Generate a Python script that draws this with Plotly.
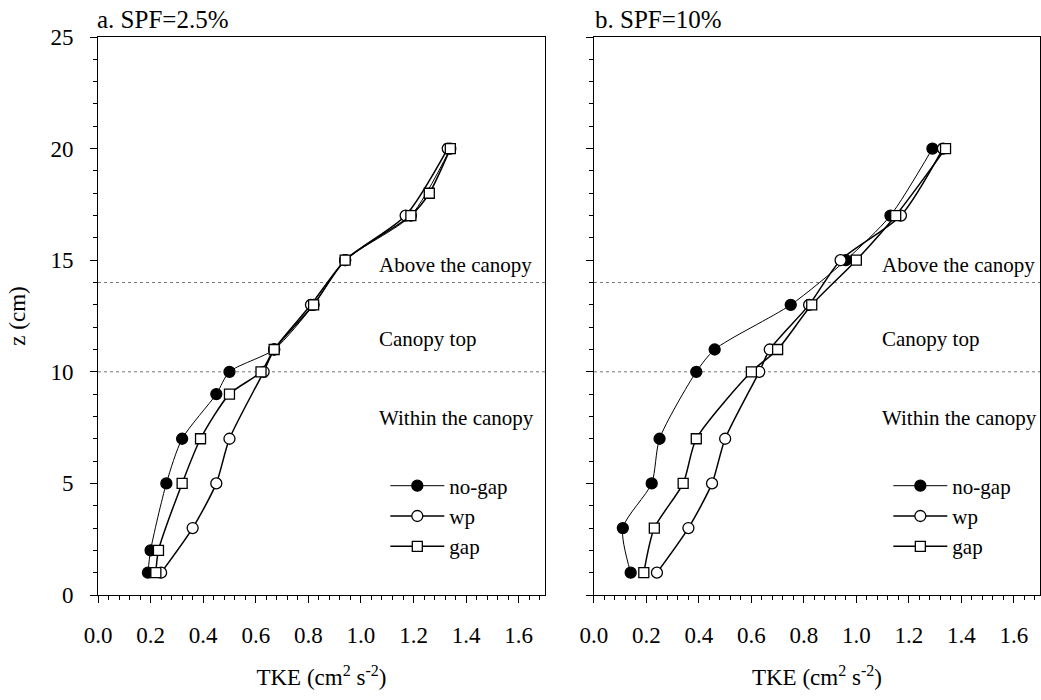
import plotly.graph_objects as go

# ---- data ----
series_names = ["no-gap", "wp", "gap"]

a_nogap_z = [1, 2, 5, 7, 9, 10, 11, 13, 15, 17, 20]
a_nogap_x = [0.19, 0.20, 0.26, 0.32, 0.45, 0.50, 0.67, 0.82, 0.94, 1.19, 1.34]
a_wp_z = [1, 3, 5, 7, 10, 11, 13, 15, 17, 20]
a_wp_x = [0.24, 0.36, 0.45, 0.50, 0.63, 0.67, 0.81, 0.94, 1.17, 1.33]
a_gap_z = [1, 2, 5, 7, 9, 10, 11, 13, 15, 17, 18, 20]
a_gap_x = [0.22, 0.23, 0.32, 0.39, 0.50, 0.62, 0.67, 0.82, 0.94, 1.19, 1.26, 1.34]

b_nogap_z = [1, 3, 5, 7, 10, 11, 13, 15, 17, 20]
b_nogap_x = [0.14, 0.11, 0.22, 0.25, 0.39, 0.46, 0.75, 0.96, 1.13, 1.29]
b_wp_z = [1, 3, 5, 7, 10, 11, 13, 15, 17, 20]
b_wp_x = [0.24, 0.36, 0.45, 0.50, 0.63, 0.67, 0.82, 0.94, 1.17, 1.33]
b_gap_z = [1, 3, 5, 7, 10, 11, 13, 15, 17, 20]
b_gap_x = [0.19, 0.23, 0.34, 0.39, 0.60, 0.70, 0.83, 1.00, 1.15, 1.34]

boundary_z = [10, 14]
zone_labels = ["Above the canopy", "Canopy top", "Within the canopy"]
zone_label_z = [14.8, 11.45, 7.95]
panel_titles = ["a. SPF=2.5%", "b. SPF=10%"]
x_tickvals = [0.0, 0.2, 0.4, 0.6, 0.8, 1.0, 1.2, 1.4, 1.6]
y_tickvals = [0, 5, 10, 15, 20, 25]

FONT = "Liberation Serif"

styles = {
    "no-gap": dict(symbol="circle", fill="black", size=11, lw=1.0),
    "wp": dict(symbol="circle", fill="white", size=11, lw=1.5),
    "gap": dict(symbol="square", fill="white", size=10, lw=1.5),
}

fig = go.Figure()

panels = [
    ("x", "y", "legend", [(a_nogap_x, a_nogap_z), (a_wp_x, a_wp_z), (a_gap_x, a_gap_z)]),
    ("x2", "y2", "legend2", [(b_nogap_x, b_nogap_z), (b_wp_x, b_wp_z), (b_gap_x, b_gap_z)]),
]

for xa, ya, lg, data in panels:
    for name, (xs, zs) in zip(series_names, data):
        st = styles[name]
        fig.add_trace(go.Scatter(
            x=xs, y=zs, mode="lines+markers", name=name,
            xaxis=xa, yaxis=ya, legend=lg,
            line=dict(color="black", width=st["lw"], shape="spline", smoothing=0.7),
            marker=dict(symbol=st["symbol"], size=st["size"], color=st["fill"],
                        line=dict(color="black", width=1.3)),
        ))

left_dom = [0, 0.4745]
right_dom = [0.5265, 1]

axis_common = dict(
    showline=True, linecolor="black", linewidth=1, mirror=True,
    ticks="outside", ticklen=7, tickwidth=1, tickcolor="black",
    showgrid=False, zeroline=False,
    tickfont=dict(family=FONT, size=23, color="black"),
)

xaxis_common = dict(axis_common, range=[0, 1.7], tickvals=x_tickvals, tickformat=".1f",
                    minor=dict(dtick=0.04, tick0=0, ticks="outside", ticklen=4, tickcolor="black"),
                    ticklabelstandoff=12,
                    title=dict(text="TKE (cm<sup>2</sup> s<sup>-2</sup>)", font=dict(family=FONT, size=23, color="black"),
                               standoff=22))
yaxis_common = dict(axis_common, range=[0, 25], tickvals=y_tickvals,
                    minor=dict(dtick=1, tick0=0, ticks="outside", ticklen=4, tickcolor="black"),
                    ticklabelstandoff=12)

legend_common = dict(xanchor="left", yanchor="top", bgcolor="rgba(0,0,0,0)",
                     font=dict(family=FONT, size=21, color="black"), itemsizing="trace",
                     tracegroupgap=0, itemwidth=54)

fig.update_layout(
    width=1041, height=700,
    margin=dict(l=98, r=1, t=37, b=105),
    paper_bgcolor="white", plot_bgcolor="white",
    font=dict(family=FONT, color="black"),
    xaxis=dict(xaxis_common, domain=left_dom, anchor="y"),
    yaxis=dict(yaxis_common, domain=[0, 1], anchor="x",
               title=dict(text="z (cm)", font=dict(family=FONT, size=23, color="black"), standoff=18)),
    xaxis2=dict(xaxis_common, domain=right_dom, anchor="y2"),
    yaxis2=dict(yaxis_common, domain=[0, 1], anchor="x2", showticklabels=False),
    legend=dict(legend_common, x=0.305, y=0.232),
    legend2=dict(legend_common, x=0.839, y=0.232),
    showlegend=True,
)

# dotted boundary lines
for xr, yr in [("x domain", "y"), ("x2 domain", "y2")]:
    for zb in boundary_z:
        fig.add_shape(type="line", xref=xr, yref=yr, x0=0, x1=1, y0=zb, y1=zb,
                      line=dict(color="#777777", width=1, dash="dot"), layer="below")

# zone labels
for xr, yr, xpos in [("x", "y", 1.06), ("x2", "y2", 1.09)]:
    for txt, zz in zip(zone_labels, zone_label_z):
        fig.add_annotation(text=txt, x=xpos, y=zz, xref=xr, yref=yr, xanchor="left", yanchor="middle",
                           showarrow=False, font=dict(family=FONT, size=21, color="black"))

# panel titles
for txt, xp in zip(panel_titles, [-0.003, 0.5255]):
    fig.add_annotation(text=txt, x=xp, y=1.0, xref="paper", yref="paper", xanchor="left", yanchor="bottom",
                       yshift=2, showarrow=False, font=dict(family=FONT, size=25, color="black"))

fig.write_html("out.html")
